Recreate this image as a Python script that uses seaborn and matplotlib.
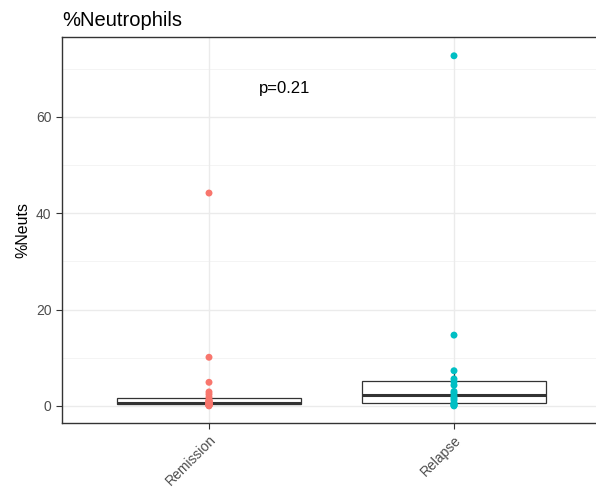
import numpy as np
import pandas as pd
import matplotlib
matplotlib.use("Agg")
import matplotlib.pyplot as plt
import seaborn as sns

# ---- data ----
groups = ["Remission", "Relapse"]
remission_vals = [0.0, 0.1, 0.1, 0.2, 0.2, 0.3, 0.4, 0.4, 0.5, 0.5, 0.6,
                  0.7, 0.8, 0.9, 1.0, 1.1, 1.3, 1.8, 2.4, 2.9, 4.9, 10.1, 44.2]
relapse_vals = [0.0, 0.1, 0.3, 0.4, 0.6, 1.2, 1.6, 2.0, 2.6, 3.0, 4.3,
                5.0, 5.6, 7.3, 14.7, 72.7]
group_colors = ["#F8766D", "#00BFC4"]
title_text = "%Neutrophils"
ylabel_text = "%Neuts"
pvalue_text = "p=0.21"
yticks = [0, 20, 40, 60]
yminor = [10, 30, 50, 70]

df = pd.DataFrame({
    "group": ["Remission"] * len(remission_vals) + ["Relapse"] * len(relapse_vals),
    "value": remission_vals + relapse_vals,
})

sns.set_theme(style="white")
plt.rcParams["font.family"] = ["Liberation Sans", "DejaVu Sans"]

fig = plt.figure(figsize=(5.96, 4.91), dpi=100)
ax = fig.add_axes([62 / 596, 1 - 423 / 491, (601 - 62) / 596, (423 - 37) / 491])

# grid
ax.set_axisbelow(True)
for v in yminor:
    ax.axhline(v, color="#F2F2F2", lw=0.6, zorder=0)
for v in yticks:
    ax.axhline(v, color="#EBEBEB", lw=1.0, zorder=0)
for i in range(len(groups)):
    ax.axvline(i, color="#EBEBEB", lw=1.0, zorder=0)

sns.boxplot(data=df, x="group", y="value", order=groups, ax=ax,
            color="white", linecolor="#333333", linewidth=0.9, width=0.75,
            showfliers=False, fill=True,
            medianprops=dict(linewidth=2.2, color="#333333"),
            boxprops=dict(facecolor="white", edgecolor="#333333", zorder=2),
            whiskerprops=dict(color="#333333"), capprops=dict(linewidth=0))

sns.stripplot(data=df, x="group", y="value", order=groups, hue="group",
              hue_order=groups, palette=group_colors, jitter=False, size=5.0,
              linewidth=0, ax=ax, legend=False, zorder=3)

ax.set_xlim(-0.6, 1.6)
ax.set_ylim(-3.55, 76.6)
ax.set_yticks(yticks)
ax.set_yticklabels([str(t) for t in yticks])
ax.set_xticks(range(len(groups)))
ax.set_xticklabels(groups, rotation=45, ha="right", va="top",
                   rotation_mode="anchor")
ax.tick_params(axis="both", colors="#333333", labelcolor="#4D4D4D",
               length=4, width=0.8, labelsize=10, bottom=True, left=True)
ax.tick_params(axis="x", pad=3)

for s in ax.spines.values():
    s.set_color("#333333")
    s.set_linewidth(1.0)
ax.spines["right"].set_visible(False)

ax.set_xlabel("")
ax.set_ylabel(ylabel_text, fontsize=11.5, color="black", labelpad=4)
ax.text(0.31, 66, pvalue_text, fontsize=12, ha="center", va="center",
        color="black")
fig.text(62 / 596, 1 - 20 / 491, title_text, fontsize=14.5, ha="left",
         va="center", color="black")

fig.savefig("out.png", dpi=100)
